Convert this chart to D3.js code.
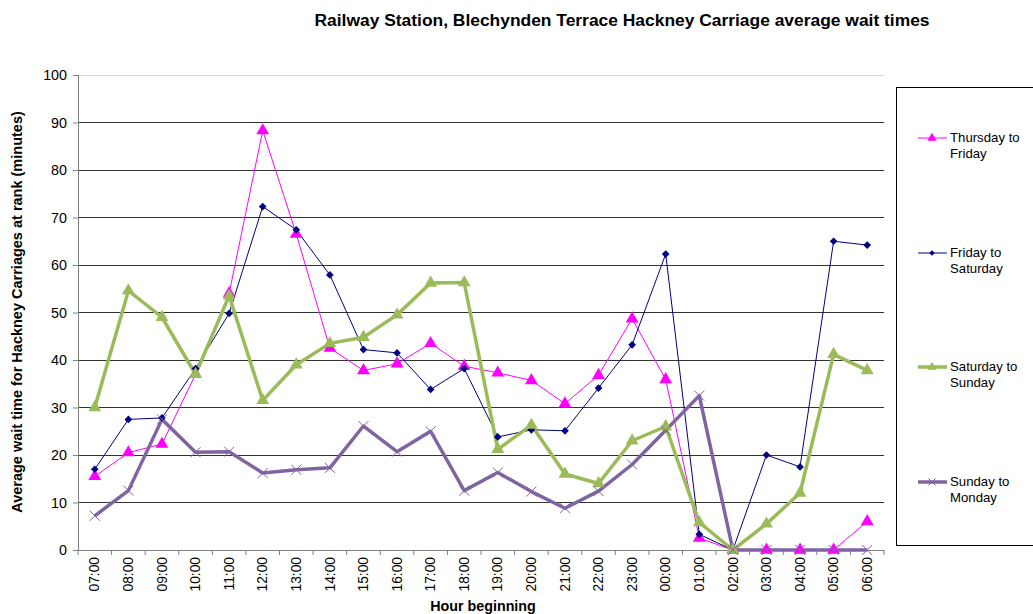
<!DOCTYPE html>
<html><head><meta charset="utf-8">
<script src="https://cdn.jsdelivr.net/npm/d3@7"></script>
<style>body{margin:0;background:#fff;font-family:"Liberation Sans",Arial,sans-serif;}</style>
</head><body><svg id="c" width="1033" height="614"></svg>
<script>
const hours = ["07:00","08:00","09:00","10:00","11:00","12:00","13:00","14:00","15:00","16:00","17:00","18:00","19:00","20:00","21:00","22:00","23:00","00:00","01:00","02:00","03:00","04:00","05:00","06:00"];
const thuFri = [15.5,20.5,22.3,37,54,88.3,66.5,42.5,37.8,39.2,43.5,38.7,37.3,35.7,30.8,36.8,48.7,35.9,2.5,0,0,0,0,6];
const friSat = [17,27.5,27.8,38.2,49.8,72.3,67.4,57.9,42.2,41.5,33.8,38.2,23.8,25.3,25.1,34.1,43.2,62.3,3.3,0,20,17.5,65,64.2];
const satSun = [30,54.6,49,37,53.5,31.5,39,43.5,44.8,49.5,56.2,56.3,21.2,26.3,16,14,23,26,5.8,0,5.5,12,41.2,37.8];
const sunMon = [7.2,12.5,27.5,20.6,20.7,16.2,16.9,17.3,26.1,20.7,25,12.5,16.3,12.3,8.8,12.4,18,25.2,32.5,0,0,0,0,0];
const yTicks = [0,10,20,30,40,50,60,70,80,90,100];
const seriesNames = ["Thursday to Friday","Friday to Saturday","Saturday to Sunday","Sunday to Monday"];

const series = [
  {name:seriesNames[0], lines:["Thursday to","Friday"], values:thuFri, color:"#FF00FF", width:1, marker:"tri", msize:72},
  {name:seriesNames[1], lines:["Friday to","Saturday"], values:friSat, color:"#000080", width:1, marker:"dia", msize:38},
  {name:seriesNames[2], lines:["Saturday to","Sunday"], values:satSun, color:"#9BBB59", width:3.5, marker:"tri", msize:72},
  {name:seriesNames[3], lines:["Sunday to","Monday"], values:sunMon, color:"#8064A2", width:3.5, marker:"x", msize:0}
];

const svg = d3.select("#c");
const L=78, R=884, T=75, B=550;
const x = d3.scaleBand().domain(hours).range([L,R]);
const y = d3.scaleLinear().domain([0,100]).range([B,T]);

// title
svg.append("text").attr("x",622).attr("y",26).attr("text-anchor","middle")
  .attr("font-size",16).attr("font-weight","bold").attr("textLength",615).attr("lengthAdjust","spacingAndGlyphs")
  .text("Railway Station, Blechynden Terrace Hackney Carriage average wait times");

// gridlines
svg.append("g").selectAll("line").data(yTicks.filter(d=>d>0)).join("line")
  .attr("x1",L).attr("x2",R).attr("y1",d=>y(d)).attr("y2",d=>y(d))
  .attr("stroke",d=>d===100?"#d9d9d9":"#333").attr("stroke-width",1).attr("shape-rendering","crispEdges");

// y axis
const ya = svg.append("g").attr("transform",`translate(${L},0)`)
  .call(d3.axisLeft(y).tickValues(yTicks).tickSize(5).tickPadding(6));
ya.select(".domain").attr("stroke","#808080");
ya.selectAll(".tick line").attr("stroke","#808080");
ya.selectAll("text").attr("font-size",14.3).attr("font-family","Liberation Sans, Arial").attr("fill","#000");

// x axis
const xa = svg.append("g").attr("transform",`translate(0,${B})`)
  .call(d3.axisBottom(x).tickSize(0));
xa.select(".domain").attr("stroke","#808080");
xa.selectAll(".tick line").remove();
xa.selectAll("text").attr("font-size",13.8).attr("font-family","Liberation Sans, Arial").attr("fill","#000")
  .attr("transform","rotate(-90)").attr("text-anchor","end").attr("dx","-7").attr("dy","0.34em").attr("y",0).attr("x",0);
// boundary ticks
svg.append("g").selectAll("line").data(hours.concat(["end"])).join("line")
  .attr("x1",(d,i)=>L+i*x.step()).attr("x2",(d,i)=>L+i*x.step())
  .attr("y1",B).attr("y2",B+5).attr("stroke","#808080");

// axis titles
svg.append("text").attr("transform",`translate(22,312) rotate(-90)`).attr("text-anchor","middle")
  .attr("font-size",14.5).attr("font-weight","bold").text("Average wait time for Hackney Carriages at rank (minutes)");
svg.append("text").attr("x",483).attr("y",611).attr("text-anchor","middle")
  .attr("font-size",14.3).attr("font-weight","bold").text("Hour beginning");

const cx = d=>x(d)+x.bandwidth()/2;
const line = d3.line().x((d,i)=>cx(hours[i])).y(d=>y(d));

function drawMarker(g, s, px, py, scale){
  if(s.marker==="tri"){
    g.append("path").attr("d",d3.symbol(d3.symbolTriangle, s.msize*scale)()).attr("transform",`translate(${px},${py})`).attr("fill",s.color);
  } else if(s.marker==="dia"){
    g.append("path").attr("d",d3.symbol(d3.symbolDiamond2, s.msize*scale)()).attr("transform",`translate(${px},${py})`).attr("fill",s.color);
  } else {
    const r=5*Math.sqrt(scale);
    g.append("path").attr("d",`M${px-r},${py-r}L${px+r},${py+r}M${px-r},${py+r}L${px+r},${py-r}`).attr("stroke",s.color).attr("stroke-width",1).attr("fill","none");
  }
}

const plot = svg.append("g");
series.forEach(s=>{
  plot.append("path").datum(s.values).attr("d",line).attr("fill","none")
    .attr("stroke",s.color).attr("stroke-width",s.width).attr("stroke-linejoin","round");
});
series.forEach(s=>{
  const g = plot.append("g");
  s.values.forEach((v,i)=>drawMarker(g,s,cx(hours[i]),y(v),1));
});

// legend
svg.append("rect").attr("x",896.5).attr("y",87.5).attr("width",200).attr("height",458)
  .attr("fill","none").attr("stroke","#000").attr("stroke-width",1);
const legY = [138,253,367,482];
series.forEach((s,i)=>{
  const g = svg.append("g");
  const ly = legY[i];
  g.append("line").attr("x1",918).attr("x2",947).attr("y1",ly).attr("y2",ly).attr("stroke",s.color).attr("stroke-width",s.width);
  drawMarker(g,s,932,ly,0.5);
  const t = g.append("text").attr("x",950).attr("y",ly+4).attr("font-size",13.2);
  t.append("tspan").attr("x",950).text(s.lines[0]);
  t.append("tspan").attr("x",950).attr("dy",15.5).text(s.lines[1]);
});
</script></body></html>
